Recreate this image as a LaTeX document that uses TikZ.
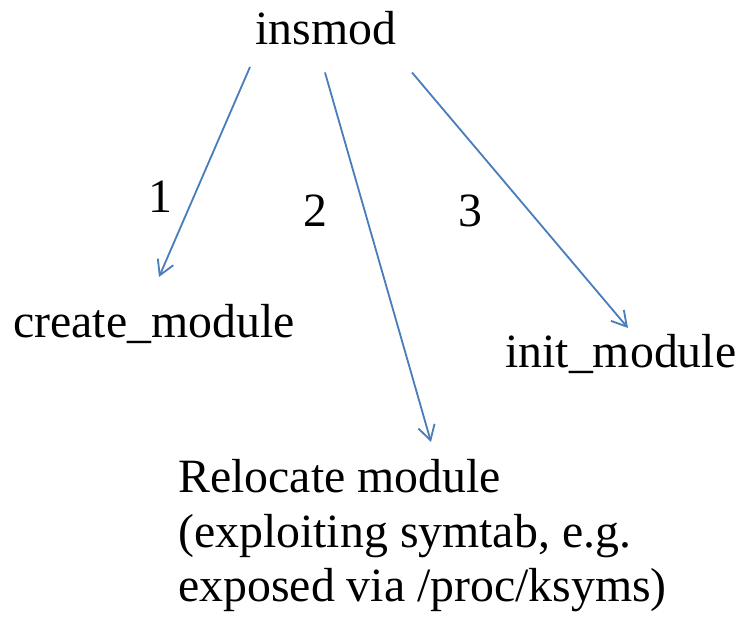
\documentclass[tikz,border=0pt]{standalone}
\usepackage{fontspec}
\setmainfont{Liberation Serif}
\usepackage{tikz}
\usepackage{xcolor}
\usetikzlibrary{arrows.meta}
\definecolor{callblue}{HTML}{4A7EBB}

\begin{document}
\begin{tikzpicture}[font=\fontsize{34}{39}\selectfont,
    >={Straight Barb[angle=60:12pt]},
    call/.style={->,draw=callblue,line width=1.3pt}]
  \useasboundingbox (0,0) rectangle (18.55,15.45);
  \draw (6.375,14.325) node (im) [anchor=base west,inner sep=0] {insmod};
  \draw (0.325,7) node (cm) [anchor=base west,inner sep=0] {create\_module};
  \draw (12.625,6.25) node (it) [anchor=base west,inner sep=0] {init\_module};
  \draw (4.45,.4) node (rm) [anchor=base west,inner sep=0,align=left]
    {Relocate module\\(exploiting symtab, e.g.\\exposed via /proc/ksyms)};
  \draw (4,10.125) node (n1) [anchor=base,inner sep=0] {1}
    (7.875,9.775) node (n2) [anchor=base,inner sep=0] {2}
    (11.75,9.775) node (n3) [anchor=base,inner sep=0] {3}
    ;

  \path (node cs:name=im,anchor=base west) +(-.125,-.55) coordinate (im1) {};
  \path (node cs:name=cm,anchor=base west) +(3.65,1.525) coordinate (cmi) {};
  \draw[call] (im1) -- (cmi);
  \path (node cs:name=im,anchor=base west) +(1.75,-.6875) coordinate (im2) {};
  \path (node cs:name=rm,anchor=base west) +(6.325,4) coordinate (rmi) {};
  \draw[call] (im2) -- (rmi);
  \path (node cs:name=im,anchor=base west) +(3.925,-.6875) coordinate (im3) {};
  \path (node cs:name=it,anchor=base west) +(3.075,1) coordinate (iti) {};
  \draw[call] (im3) -- (iti);
\end{tikzpicture}
\end{document}
